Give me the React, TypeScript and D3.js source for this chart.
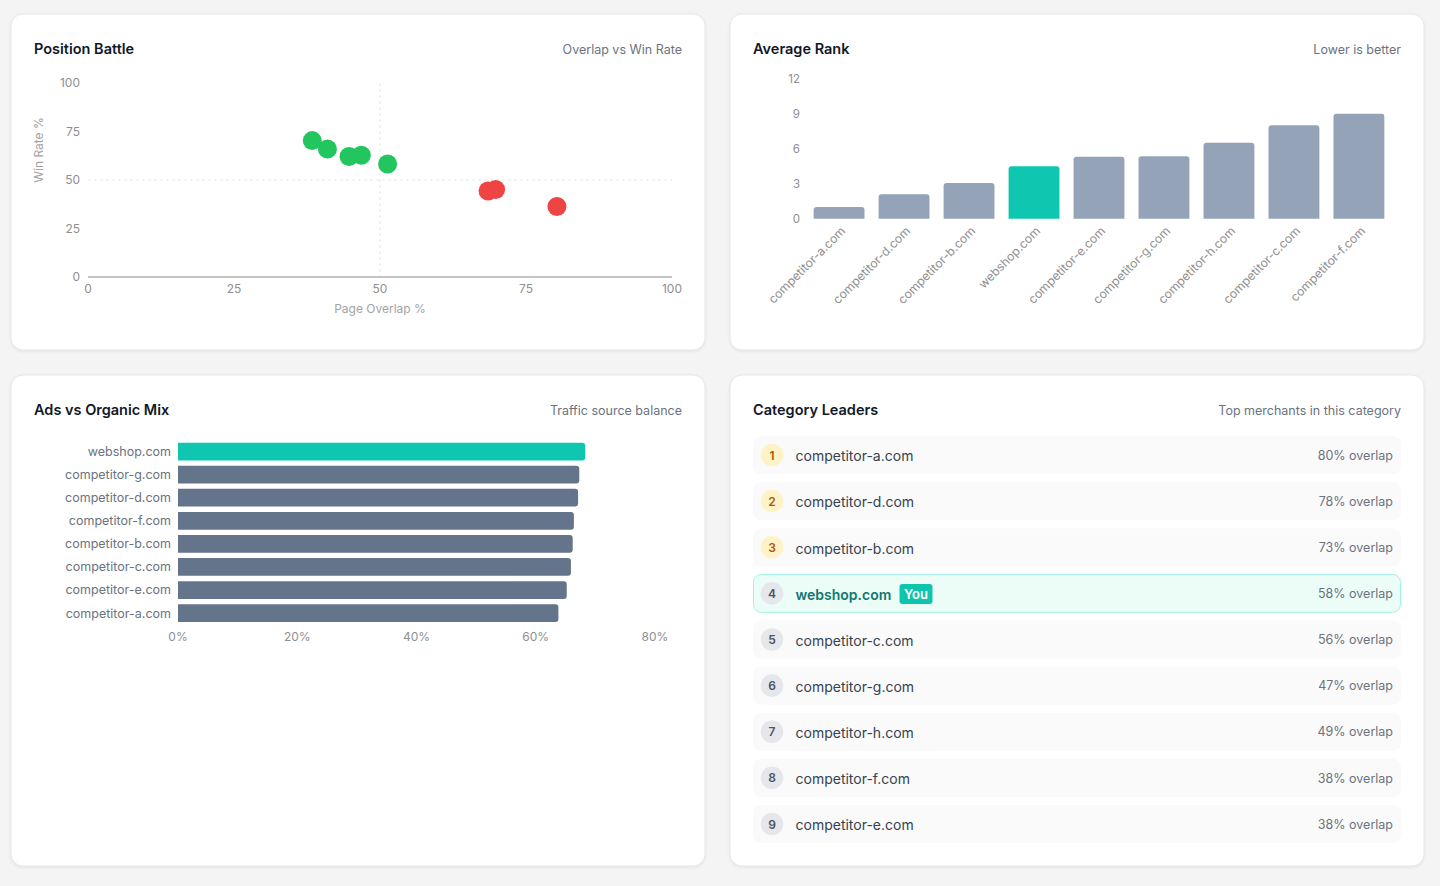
import React from "react";
import * as d3 from "d3";

// Position Battle scatter
const battleOverlap = [38.4, 41.0, 44.7, 46.8, 51.3, 68.5, 69.8, 80.3];
const battleWinRate = [70.3, 66.0, 62.1, 62.8, 58.2, 44.3, 45.1, 36.3];
const battleTicks = [0, 25, 50, 75, 100];

// Average Rank bars
const rankSites = ["competitor-a.com", "competitor-d.com", "competitor-b.com", "webshop.com", "competitor-e.com", "competitor-g.com", "competitor-h.com", "competitor-c.com", "competitor-f.com"];
const rankValues = [1.0, 2.1, 3.05, 4.5, 5.3, 5.35, 6.5, 8.0, 9.0];
const rankTicks = [0, 3, 6, 9, 12];

// Ads vs Organic mix
const mixSites = ["webshop.com", "competitor-g.com", "competitor-d.com", "competitor-f.com", "competitor-b.com", "competitor-c.com", "competitor-e.com", "competitor-a.com"];
const mixValues = [68.3, 67.3, 67.1, 66.4, 66.2, 65.9, 65.2, 63.8];
const mixTicks = [0, 20, 40, 60, 80];

// Category leaders
const leaderSites = ["competitor-a.com", "competitor-d.com", "competitor-b.com", "webshop.com", "competitor-c.com", "competitor-g.com", "competitor-h.com", "competitor-f.com", "competitor-e.com"];
const leaderOverlap = [80, 78, 73, 58, 56, 47, 49, 38, 38];

const ME = "webshop.com";
const FONT = "Inter, 'Open Sans', sans-serif";
const TEAL = "#0fc6b0";

function Card({ x, y, w, h, title, sub }) {
  return (
    <g>
      <rect x={x} y={y} width={w} height={h} rx={12} fill="#fff" stroke="#e7e7e7" filter="url(#shadow)" />
      <text x={x + 23} y={y + 40} fontSize={14.5} fontWeight={600} fill="#111827">{title}</text>
      <text x={x + w - 23} y={y + 39.5} fontSize={12.5} fill="#6b7280" textAnchor="end">{sub}</text>
    </g>
  );
}

function PositionBattle() {
  const x = d3.scaleLinear().domain([0, 100]).range([88, 672]);
  const y = d3.scaleLinear().domain([0, 100]).range([277, 83]);
  return (
    <g>
      <line x1={x(50)} x2={x(50)} y1={y(100)} y2={y(0)} stroke="#e5e7eb" strokeDasharray="3 3" />
      <line x1={x(0)} x2={x(100)} y1={y(50)} y2={y(50)} stroke="#e5e7eb" strokeDasharray="3 3" />
      <line x1={x(0)} x2={x(100)} y1={y(0)} y2={y(0)} stroke="#8a8a8a" />
      {battleTicks.map(t => (
        <text key={"x" + t} x={x(t)} y={y(0) + 16} fontSize={12} fill="#8f8f8f" textAnchor="middle">{t}</text>
      ))}
      {battleTicks.map(t => (
        <text key={"y" + t} x={80} y={y(t)} dy="0.35em" fontSize={12} fill="#8f8f8f" textAnchor="end">{t}</text>
      ))}
      <text x={x(50)} y={313} fontSize={12} fill="#a3a3a3" textAnchor="middle">Page Overlap %</text>
      <text transform={`translate(43,${y(50) - 30}) rotate(-90)`} fontSize={12} fill="#a3a3a3" textAnchor="middle">Win Rate %</text>
      {battleOverlap.map((o, i) => (
        <circle key={i} cx={x(o)} cy={y(battleWinRate[i])} r={9.5} fill={battleWinRate[i] >= 50 ? "#22c55e" : "#ef4444"} />
      ))}
    </g>
  );
}

function AverageRank() {
  const x = d3.scaleBand().domain(rankSites).range([806.5, 1391.5]).paddingInner(0.217).paddingOuter(0.11);
  const y = d3.scaleLinear().domain([0, 12]).range([218.7, 78.7]);
  const r = 3;
  return (
    <g>
      {rankTicks.map(t => (
        <text key={t} x={800} y={y(t)} dy="0.35em" fontSize={11.5} fill="#8f8f8f" textAnchor="end">{t}</text>
      ))}
      {rankSites.map((s, i) => {
        const bx = x(s), bw = x.bandwidth(), by = y(rankValues[i]), bh = y(0) - by;
        const d = `M${bx},${by + bh}V${by + r}Q${bx},${by} ${bx + r},${by}H${bx + bw - r}Q${bx + bw},${by} ${bx + bw},${by + r}V${by + bh}Z`;
        return <path key={s} d={d} fill={s === ME ? TEAL : "#94a3b8"} />;
      })}
      {rankSites.map(s => (
        <text key={"l" + s} transform={`translate(${x(s) + x.bandwidth() / 2 + 4},${y(0) + 10}) rotate(-45)`} dy="0.35em" fontSize={12.2} fill="#8f8f8f" textAnchor="end">{s}</text>
      ))}
    </g>
  );
}

function AdsMix() {
  const x = d3.scaleLinear().domain([0, 80]).range([178, 655]);
  const y = d3.scaleBand().domain(mixSites).range([440, 624.7]).paddingInner(0.23).paddingOuter(0.115);
  const r = 3;
  return (
    <g>
      {mixSites.map((s, i) => {
        const by = y(s), bh = y.bandwidth(), bx = x(0), bw = x(mixValues[i]) - x(0);
        const d = `M${bx},${by}H${bx + bw - r}Q${bx + bw},${by} ${bx + bw},${by + r}V${by + bh - r}Q${bx + bw},${by + bh} ${bx + bw - r},${by + bh}H${bx}Z`;
        return (
          <g key={s}>
            <path d={d} fill={s === ME ? TEAL : "#64748b"} />
            <text x={171} y={by + bh / 2} dy="0.35em" fontSize={12.5} fill="#6b7280" textAnchor="end">{s}</text>
          </g>
        );
      })}
      {mixTicks.map(t => (
        <text key={t} x={x(t)} y={637} dy="0.35em" fontSize={12} fill="#8f8f8f" textAnchor="middle">{t}%</text>
      ))}
    </g>
  );
}

function CategoryLeaders() {
  const y = d3.scaleBand().domain(leaderSites).range([436, 843]).paddingInner(0.176);
  return (
    <g>
      {leaderSites.map((s, i) => {
        const top = y(s), h = y.bandwidth(), cy = top + h / 2;
        const me = s === ME;
        const podium = i < 3;
        return (
          <g key={s}>
            <rect x={me ? 753.5 : 753} y={top} width={me ? 647 : 648} height={h} rx={8}
              fill={me ? "#ecfdf8" : "#fafafa"} stroke={me ? "#9ff3e0" : "none"} />
            <circle cx={772} cy={cy} r={11.3} fill={podium ? "#fef3c7" : "#e5e7eb"} />
            <text x={772} y={cy} dy="0.38em" fontSize={12} fontWeight={600} fill={podium ? "#b45309" : "#4b5563"} textAnchor="middle">{i + 1}</text>
            <text x={795.5} y={cy + 1} dy="0.38em" fontSize={14} fontWeight={me ? 600 : 400} fill={me ? "#0f766e" : "#374151"}>{s}</text>
            {me && (
              <g>
                <rect x={899.5} y={cy - 9.5} width={33} height={20} rx={3} fill="#0fc4ad" />
                <text x={916} y={cy + 0.5} dy="0.38em" fontSize={13} fontWeight={600} fill="#fff" textAnchor="middle">You</text>
              </g>
            )}
            <text x={1393} y={cy} dy="0.38em" fontSize={12.5} fill="#6b7280" textAnchor="end">{leaderOverlap[i]}% overlap</text>
          </g>
        );
      })}
    </g>
  );
}

export default function App() {
  return (
    <svg width={1440} height={886} fontFamily={FONT} style={{ position: "absolute", left: 0, top: 0 }}>
      <defs>
        <filter id="shadow" x="-5%" y="-5%" width="110%" height="115%">
          <feDropShadow dx="0" dy="1" stdDeviation="1.5" floodColor="#000" floodOpacity="0.08" />
        </filter>
      </defs>
      <rect width={1440} height={886} fill="#f4f4f5" />
      <Card x={11} y={14} w={694} h={336} title="Position Battle" sub="Overlap vs Win Rate" />
      <Card x={730} y={14} w={694} h={336} title="Average Rank" sub="Lower is better" />
      <Card x={11} y={375} w={694} h={491} title="Ads vs Organic Mix" sub="Traffic source balance" />
      <Card x={730} y={375} w={694} h={491} title="Category Leaders" sub="Top merchants in this category" />
      <PositionBattle />
      <AverageRank />
      <AdsMix />
      <CategoryLeaders />
    </svg>
  );
}
